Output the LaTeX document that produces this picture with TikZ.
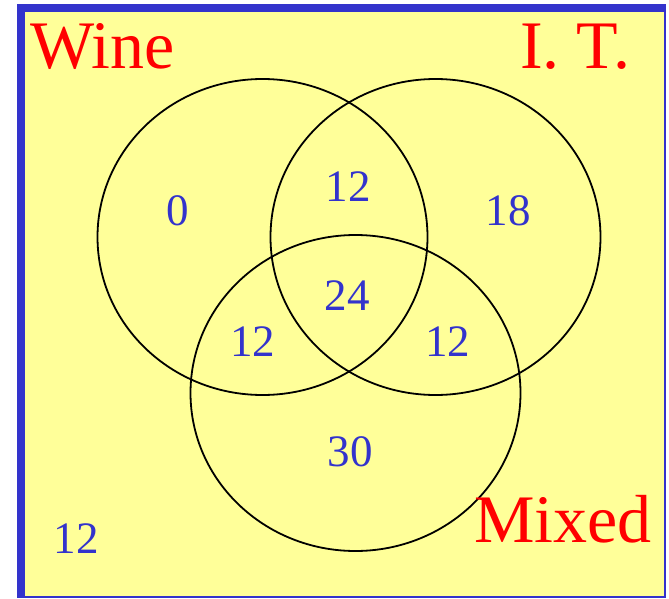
\documentclass[tikz,border=0pt]{standalone}
\usepackage{fontspec}
\setmainfont{Liberation Serif}
\usepackage{xcolor}
\definecolor{paneyellow}{HTML}{FFFF99}
\definecolor{frameblue}{HTML}{3333CC}
\definecolor{countblue}{HTML}{3333CC}

\begin{document}
\begin{tikzpicture}[
  x=1pt, y=-1pt,
  set/.style={draw=black, line width=1.8pt},
  setname/.style={text=red, inner sep=0pt, anchor=base west,
                  font=\fontsize{68}{68}\selectfont},
  count/.style={text=countblue, inner sep=0pt,
                font=\fontsize{45}{45}\selectfont},
]

% ---- Canvas and frame -------------------------------------------------------
\useasboundingbox (0,0) rectangle (669,599);
\fill[frameblue] (17,4) rectangle (666,598);
\fill[paneyellow] (25,12) rectangle (664,596);

% ---- Sets (rx, ry in px) ----------------------------------------------------
\def\rx{165}
\def\ry{158}
\draw[set] (262.5,237) ellipse [x radius=\rx, y radius=\ry];   % Wine
\draw[set] (435.5,237) ellipse [x radius=\rx, y radius=\ry];   % I. T.
\draw[set] (355.5,393) ellipse [x radius=\rx, y radius=\ry];   % Mixed

% ---- Set names --------------------------------------------------------------
\node[setname] (wine)  at (30,69)  {Wine};
\node[setname] (it)    at (520,69) {I. T.};
\node[setname] (mixed) at (474,542) {Mixed};

% ---- Region counts ----------------------------------------------------------
\node[count] (wOnly)   at (178,210.5) {0};
\node[count] (wiOnly)  at (348,187)   {12};
\node[count] (iOnly)   at (508,210.5) {18};
\node[count] (all)     at (347,296)   {24};
\node[count] (wmOnly)  at (252.5,342) {12};
\node[count] (imOnly)  at (447.5,342) {12};
\node[count] (mOnly)   at (350,452)   {30};
\node[count] (none)    at (76,538.5)  {12};

\end{tikzpicture}
\end{document}
